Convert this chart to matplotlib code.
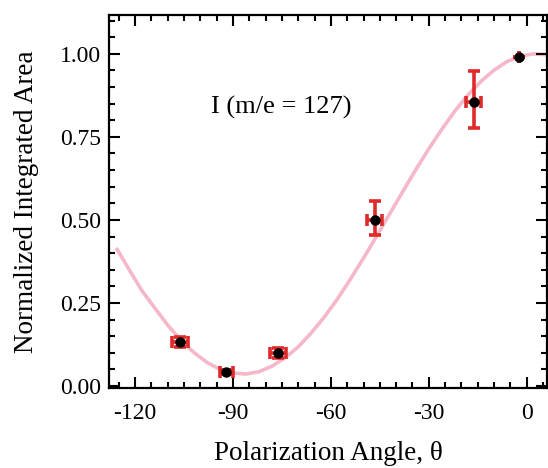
import matplotlib
matplotlib.use("Agg")
import matplotlib.pyplot as plt
from matplotlib.ticker import MultipleLocator, FormatStrFormatter

plt.rcParams['font.family'] = ['Liberation Serif', 'DejaVu Serif']
plt.rcParams['axes.unicode_minus'] = False

# measured points
angle = [-106.2, -92.1, -76.2, -46.5, -16.2, -2.4]
area = [0.132, 0.042, 0.099, 0.500, 0.855, 0.991]
angle_err = [2.4, 2.0, 2.5, 2.3, 2.3, 0.0]
area_err_lo = [0.014, 0.005, 0.014, 0.045, 0.077, 0.0]
area_err_hi = [0.014, 0.005, 0.014, 0.056, 0.094, 0.0]

# fit curve
fit_angle = [-125.5, -122, -118, -114, -110, -106, -102, -98, -94, -90, -86,
             -82, -78, -74, -70, -66, -62, -58, -54, -50, -46, -42, -38,
             -34, -30, -26, -22, -18, -14, -10, -6, -2, 2, 6.2]
fit_area = [0.411, 0.353, 0.288, 0.235, 0.183, 0.138, 0.101, 0.071, 0.050,
            0.039, 0.036, 0.043, 0.060, 0.085, 0.118, 0.160, 0.208, 0.262,
            0.322, 0.385, 0.451, 0.518, 0.585, 0.651, 0.714, 0.773, 0.828,
            0.876, 0.917, 0.951, 0.977, 0.992, 1.000, 0.997]

fig = plt.figure(figsize=(5.48, 4.68), dpi=100)
ax = fig.add_axes([0.199, 0.171, 0.799, 0.797])

ax.plot(fit_angle, fit_area, color='#f5b8c8', lw=2.6, zorder=1,
        solid_joinstyle='round')
ax.errorbar(angle, area, xerr=angle_err, yerr=[area_err_lo, area_err_hi],
            fmt='none', ecolor='#e02a2a', elinewidth=2.6, capsize=4,
            capthick=2.6, zorder=2)
ax.plot(angle, area, 'o', color='black', ms=6.5, zorder=3)

ax.text(-75.3, 0.84, 'I (m/e = 127)', fontsize=19, ha='center', va='center')

ax.set_xlim(-128, 6.2)
ax.set_ylim(-0.006, 1.117)
ax.xaxis.set_major_locator(MultipleLocator(30))
ax.xaxis.set_minor_locator(MultipleLocator(5))
ax.yaxis.set_major_locator(MultipleLocator(0.25))
ax.yaxis.set_minor_locator(MultipleLocator(0.05))
ax.yaxis.set_major_formatter(FormatStrFormatter('%.2f'))

ax.tick_params(which='both', direction='in', top=True, right=True,
               width=1.5, labelsize=17)
ax.tick_params(which='major', length=8, pad=6)
ax.tick_params(axis='x', which='major', pad=11)
ax.tick_params(which='minor', length=4.5)
for s in ax.spines.values():
    s.set_linewidth(1.6)

ax.set_xlabel('Polarization Angle, \u03b8', fontsize=19.5, labelpad=12)
ax.set_ylabel('Normalized Integrated Area', fontsize=19.5, labelpad=15)

fig.savefig('out.png', dpi=100)
